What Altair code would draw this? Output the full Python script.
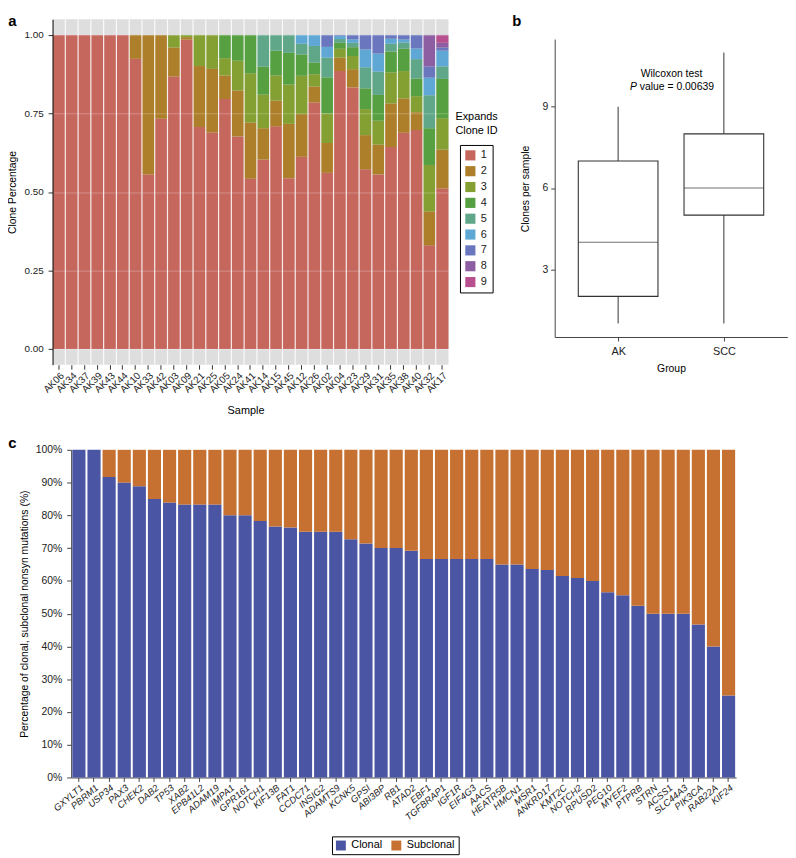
import altair as alt
import pandas as pd

FONT = "Liberation Sans"
TXT = "#222222"

# ---------------- panel a data ----------------
samples = ["AK06", "AK34", "AK37", "AK39", "AK43", "AK44", "AK10", "AK33", "AK42", "AK03",
           "AK09", "AK21", "AK25", "AK05", "AK24", "AK41", "AK14", "AK15", "AK45", "AK12",
           "AK26", "AK02", "AK04", "AK23", "AK29", "AK31", "AK35", "AK38", "AK40", "AK32", "AK17"]
clone_fracs = [
    [1.0], [1.0], [1.0], [1.0], [1.0], [1.0],
    [0.924, 0.076],
    [0.556, 0.444],
    [0.733, 0.267],
    [0.868, 0.092, 0.040],
    [0.985, 0.008, 0.007],
    [0.707, 0.194, 0.099],
    [0.689, 0.203, 0.108],
    [0.796, 0.075, 0.055, 0.074],
    [0.677, 0.146, 0.095, 0.082],
    [0.542, 0.179, 0.157, 0.122],
    [0.603, 0.100, 0.107, 0.089, 0.101],
    [0.709, 0.082, 0.080, 0.079, 0.050],
    [0.544, 0.173, 0.125, 0.101, 0.057],
    [0.612, 0.136, 0.122, 0.068, 0.034, 0.028],
    [0.785, 0.051, 0.039, 0.037, 0.053, 0.035],
    [0.561, 0.095, 0.094, 0.115, 0.063, 0.034, 0.038],
    [0.885, 0.043, 0.028, 0.019, 0.012, 0.010, 0.003],
    [0.833, 0.058, 0.042, 0.028, 0.014, 0.011, 0.014],
    [0.572, 0.109, 0.083, 0.066, 0.067, 0.057, 0.046],
    [0.556, 0.095, 0.076, 0.082, 0.074, 0.058, 0.059],
    [0.643, 0.139, 0.099, 0.066, 0.025, 0.016, 0.012],
    [0.689, 0.109, 0.087, 0.071, 0.020, 0.010, 0.014],
    [0.697, 0.057, 0.051, 0.056, 0.062, 0.034, 0.043],
    [0.330, 0.108, 0.148, 0.117, 0.105, 0.056, 0.036, 0.100],
    [0.511, 0.124, 0.100, 0.125, 0.040, 0.050, 0.010, 0.015, 0.025],
]
clone_ids = ["1", "2", "3", "4", "5", "6", "7", "8", "9"]
clone_colors = ["#C6675E", "#AE7F2A", "#85A032", "#56A041", "#60A78A",
                "#5FA8D5", "#6A77BF", "#8D5EA1", "#B8508F"]
y_ticks_a = [0, 0.25, 0.5, 0.75, 1.0]

# ---------------- panel b data ----------------
groups = ["AK", "SCC"]
box_min = [1, 1]
box_q1 = [2, 5]
box_median = [4, 6]
box_q3 = [7, 8]
box_max = [9, 11]
y_ticks_b = [3, 6, 9]

# ---------------- panel c data ----------------
genes = ["GXYLT1", "PBRM1", "USP34", "PAX3", "CHEK2", "DAB2", "TP53", "XAB2", "EPB41L2", "ADAM19",
         "IMPA1", "GPR161", "NOTCH1", "KIF13B", "FAT1", "CCDC71", "INSIG2", "ADAMTS9", "KCNK5", "GPSI",
         "ABI3BP", "RB1", "ATAD2", "EBF1", "TGFBRAP1", "IGF1R", "EIF4G3", "AACS", "HEATR5B", "HMCN1",
         "MSR1", "ANKRD17", "KMT2C", "NOTCH2", "RPUSD2", "PEG10", "MYEF2", "PTPRB", "STRN", "ACSS1",
         "SLC44A3", "PIK3CA", "RAB22A", "KIF24"]
clonal_pct = [100, 100, 91.7, 90.0, 88.9, 85.0, 83.9, 83.3, 83.3, 83.3,
              80.0, 80.0, 78.3, 76.6, 76.3, 75.0, 75.0, 75.0, 72.7, 71.4,
              70.0, 70.0, 69.2, 66.7, 66.7, 66.7, 66.7, 66.7, 65.0, 65.0,
              63.6, 63.3, 61.5, 60.9, 60.0, 56.5, 55.6, 52.4, 50.0, 50.0,
              50.0, 46.7, 40.0, 25.0]
mut_types = ["Clonal", "Subclonal"]
mut_colors = ["#4A56A4", "#C67132"]
y_ticks_c = [0, 10, 20, 30, 40, 50, 60, 70, 80, 90, 100]


def label(txt, x, y, size=15, weight="bold", style="normal", align="left", baseline="top"):
    return alt.Chart(pd.DataFrame({"t": [txt]})).mark_text(
        align=align, baseline=baseline, fontSize=size, fontWeight=weight, fontStyle=style,
        font=FONT, color="#000000"
    ).encode(text="t:N", x=alt.value(x), y=alt.value(y))


# =============== panel a ===============
rows = []
for s, fr in zip(samples, clone_fracs):
    for i, f in enumerate(fr):
        rows.append({"sample": s, "clone": clone_ids[i], "cid": i + 1, "frac": f})
dfa = pd.DataFrame(rows)
df_samples = pd.DataFrame({"sample": samples})

WA, HA = 400, 349
xa = alt.X("sample:N", sort=samples,
           scale=alt.Scale(paddingInner=0, paddingOuter=0),
           axis=alt.Axis(title="Sample", labelAngle=-45, labelAlign="right", labelBaseline="top",
                         labelFontSize=10, labelColor=TXT, labelOverlap=False, labelPadding=1,
                         domain=False, ticks=True, tickSize=4.5, tickColor="#333333",
                         titleFontSize=11, titleFontWeight="normal", titleColor="#000000",
                         titleX=195, titleY=46, titleBaseline="middle", grid=False))
bars_a = alt.Chart(dfa).mark_bar().encode(
    x=xa,
    y=alt.Y("frac:Q", stack="zero",
            scale=alt.Scale(domain=[-0.05, 1.05], nice=False, zero=False),
            axis=alt.Axis(title="Clone Percentage", values=y_ticks_a, format=".2f",
                          labelFontSize=10, labelColor=TXT, labelPadding=5,
                          tickSize=4.5, tickColor="#333333", domainColor="#000000",
                          grid=True, gridColor="white", gridOpacity=0.25, gridWidth=1, zindex=1,
                          titleFontSize=10.5, titleFontWeight="normal", titleColor="#000000",
                          titleX=-40, titleBaseline="middle")),
    color=alt.Color("clone:N", scale=alt.Scale(domain=clone_ids, range=clone_colors),
                    legend=alt.Legend(title=None, orient="none", legendX=411.6, legendY=127,
                                      strokeColor="#000000", padding=5, symbolType="square",
                                      symbolSize=105, symbolStrokeWidth=0, labelFontSize=11,
                                      labelColor=TXT, rowPadding=4, labelOffset=5)),
    order=alt.Order("cid:Q", sort="ascending"),
)
sep_a = alt.Chart(df_samples).mark_rule(color="white", strokeWidth=1.2, opacity=0.85).encode(
    x=alt.X("sample:N", sort=samples, bandPosition=0)
)
panel_a = alt.layer(
    bars_a, sep_a,
    label("Expands", 407, 99, size=11, weight="normal", baseline="middle"),
    label("Clone ID", 407, 113, size=11, weight="normal", baseline="middle"),
    label("a", -44.7, -5),
).properties(width=WA, height=HA, view=alt.ViewBackground(fill="#DEDEDE", strokeWidth=0))

# =============== panel b ===============
dfb = pd.DataFrame({"group": groups, "lo": box_min, "q1": box_q1, "med": box_median,
                    "q3": box_q3, "hi": box_max})
WB, HB = 235, 321
xb = alt.X("group:N", sort=groups, scale=alt.Scale(type="point", padding=0.6),
           axis=alt.Axis(title="Group", labelAngle=0, labelFontSize=11, labelColor=TXT,
                         labelPadding=5, tickSize=4, tickColor="#444444", domainColor="#444444",
                         titleFontSize=10.5, titleFontWeight="normal", titleColor="#000000",
                         titleY=32, titleBaseline="middle"))
yb_scale = alt.Scale(domain=[0.5, 11.5], range=[321, 20], nice=False, zero=False)
whisk = alt.Chart(dfb).mark_rule(color="#333333", strokeWidth=1).encode(
    x=xb,
    y=alt.Y("lo:Q", scale=yb_scale,
            axis=alt.Axis(title="Clones per sample", values=y_ticks_b, labelFontSize=10.5,
                          labelColor=TXT, labelPadding=3, tickSize=4, tickColor="#444444",
                          domainColor="#444444", grid=False,
                          titleFontSize=10.5, titleFontWeight="normal", titleColor="#000000",
                          titleX=-29, titleY=171, titleBaseline="middle")),
    y2="hi:Q",
)
box = alt.Chart(dfb).mark_bar(size=80.5, fill="white", stroke="#333333", strokeWidth=1.1).encode(
    x=xb, y=alt.Y("q1:Q", scale=yb_scale), y2="q3:Q")
med = alt.Chart(dfb).mark_tick(size=80.5, thickness=1, color="#333333").encode(
    x=xb, y=alt.Y("med:Q", scale=yb_scale))
panel_b = alt.layer(
    whisk, box, med,
    label("Wilcoxon test", 118, 55.7, size=10.5, weight="normal", align="center", baseline="middle"),
    label("P", 76, 68.3, size=10.5, weight="normal", style="italic", baseline="middle"),
    label("value = 0.00639", 86, 68.3, size=10.5, weight="normal", baseline="middle"),
    label("b", -43, -5),
).properties(width=WB, height=HB)

# =============== panel c ===============
rows_c = []
for g, v in zip(genes, clonal_pct):
    rows_c.append({"gene": g, "type": mut_types[0], "ord": 0, "pct": v})
    rows_c.append({"gene": g, "type": mut_types[1], "ord": 1, "pct": 100 - v})
dfc = pd.DataFrame(rows_c)
WC, HC = 690.6, 331
bars_c = alt.Chart(dfc).mark_bar().encode(
    x=alt.X("gene:N", sort=genes,
            scale=alt.Scale(paddingInner=0.13, paddingOuter=0.065, range=[19, 690.6]),
            axis=alt.Axis(title=None, labelAngle=-40, labelAlign="right", labelBaseline="top",
                          labelFontSize=9.5, labelFontStyle="italic", labelColor=TXT,
                          labelOverlap=False, labelPadding=1, tickSize=4, tickColor="#444444",
                          domainColor="#444444")),
    y=alt.Y("pct:Q", stack="zero", scale=alt.Scale(domain=[0, 100], nice=False),
            axis=alt.Axis(title="Percentage of clonal, subclonal nonsyn mutations (%)",
                          values=y_ticks_c, labelExpr="datum.value + '%'", labelFontSize=10.5,
                          labelColor=TXT, labelPadding=5, tickSize=4.5, tickColor="#444444",
                          domainColor="#444444", grid=False, offset=-18.8,
                          titleFontSize=10.5, titleFontWeight="normal", titleColor="#000000",
                          titleX=-47, titleBaseline="middle")),
    color=alt.Color("type:N", scale=alt.Scale(domain=mut_types, range=mut_colors),
                    legend=alt.Legend(title=None, orient="none", direction="horizontal",
                                      legendX=282.3, legendY=390.5, strokeColor="#000000",
                                      padding=3.5, symbolType="square", symbolSize=100,
                                      symbolStrokeWidth=0, labelFontSize=11, labelColor="#000000",
                                      labelOffset=5, columnPadding=8)),
    order=alt.Order("ord:Q", sort="ascending"),
)
panel_c = alt.layer(bars_c, label("c", -44.7, -13.5)).properties(width=WC, height=HC)

top = alt.hconcat(panel_a, panel_b, spacing=14.3).resolve_scale(
    x="independent", y="independent", color="independent")
chart = alt.vconcat(top, panel_c, spacing=21).resolve_scale(
    x="independent", y="independent", color="independent"
).properties(
    padding={"left": 0, "top": 2, "right": 0, "bottom": 0}
).configure(font=FONT).configure_view(strokeWidth=0).configure_axis(
    labelFont=FONT, titleFont=FONT
).configure_legend(labelFont=FONT)

chart.save("out.html", embed_options={"renderer": "svg", "actions": False})
